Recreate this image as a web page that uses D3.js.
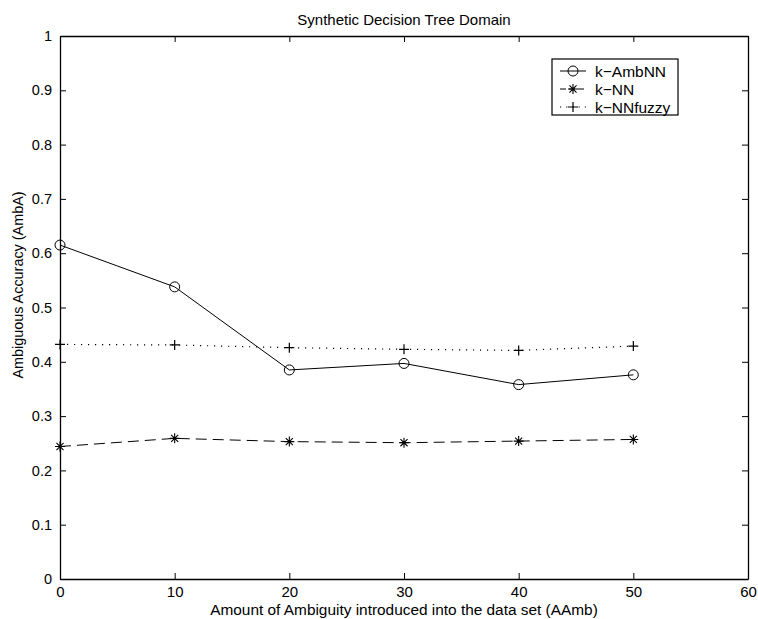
<!DOCTYPE html>
<html lang="en">
<head>
  <meta charset="UTF-8">
  <title>Synthetic Decision Tree Domain</title>
  <script src="https://cdn.jsdelivr.net/npm/d3@7"></script>
  <style>
    body { margin: 0; background: #fff; }
    svg { display: block; font-family: "Liberation Sans", Arial, sans-serif; }
    .axis text { font-size: 15px; fill: #000; font-family: "Liberation Sans", Arial, sans-serif; }
    .axis path, .axis line { stroke: #000; }
  </style>
</head>
<body>
  <svg width="758" height="619"></svg>
  <script>
    const xValues = [0, 10, 20, 30, 40, 50]
    const ambNN = [0.615, 0.538, 0.385, 0.397, 0.358, 0.376]
    const kNN = [0.244, 0.259, 0.253, 0.251, 0.254, 0.257]
    const kNNfuzzy = [0.432, 0.431, 0.426, 0.423, 0.421, 0.429]
    const xTicks = [0, 10, 20, 30, 40, 50, 60]
    const yTicks = [0, 0.1, 0.2, 0.3, 0.4, 0.5, 0.6, 0.7, 0.8, 0.9, 1]

    const margin = { top: 36, right: 10, bottom: 40, left: 60 }
    const width = 758 - margin.left - margin.right
    const height = 619 - margin.top - margin.bottom

    const svg = d3.select('svg')
    const chart = svg.append('g')
      .attr('transform', `translate(${margin.left}, ${margin.top})`)

    const x = d3.scaleLinear().domain([0, 60]).range([0, width])
    const y = d3.scaleLinear().domain([0, 1]).range([height, 0])

    const fmt = d => d3.format('~g')(d)

    // axes, ticks pointing inward on all four sides
    chart.append('g')
      .attr('class', 'axis')
      .attr('transform', `translate(0, ${height})`)
      .call(d3.axisBottom(x).tickValues(xTicks).tickFormat(fmt).tickSizeInner(-6).tickSizeOuter(0).tickPadding(7))
    chart.append('g')
      .attr('class', 'axis yaxis')
      .call(d3.axisLeft(y).tickValues(yTicks).tickFormat(fmt).tickSizeInner(-6).tickSizeOuter(0).tickPadding(8))
    chart.append('g')
      .attr('class', 'axis')
      .call(d3.axisTop(x).tickValues(xTicks).tickFormat('').tickSizeInner(-6).tickSizeOuter(0))
    chart.append('g')
      .attr('class', 'axis')
      .attr('transform', `translate(${width}, 0)`)
      .call(d3.axisRight(y).tickValues(yTicks).tickFormat('').tickSizeInner(-6).tickSizeOuter(0))

    chart.selectAll('.yaxis text').style('font-size', '14.5px')
    chart.selectAll('.axis .domain').attr('stroke-width', 1.3)

    const line = d3.line().x((d, i) => x(xValues[i])).y(d => y(d))

    const series = [
      { name: 'k\u2212AmbNN', values: ambNN, dash: null, legendDash: null, marker: 'circle' },
      { name: 'k\u2212NN', values: kNN, dash: '11,6', legendDash: '6,3', marker: 'star' },
      { name: 'k\u2212NNfuzzy', values: kNNfuzzy, dash: '1.2,5.8', legendDash: '1.2,5', marker: 'plus' }
    ]

    function drawMarker(g, type, cx, cy) {
      if (type === 'circle') {
        g.append('circle').attr('cx', cx).attr('cy', cy).attr('r', 5)
          .attr('fill', 'none').attr('stroke', '#000').attr('stroke-width', 1)
      } else if (type === 'plus') {
        g.append('path').attr('d', `M${cx - 5},${cy}H${cx + 5}M${cx},${cy - 5}V${cy + 5}`)
          .attr('stroke', '#000').attr('stroke-width', 1.2)
      } else {
        const r = 5
        const a = r * 0.707
        g.append('path').attr('d', `M${cx - r},${cy}H${cx + r}M${cx},${cy - r}V${cy + r}M${cx - a},${cy - a}L${cx + a},${cy + a}M${cx - a},${cy + a}L${cx + a},${cy - a}`)
          .attr('stroke', '#000').attr('stroke-width', 1.1)
      }
    }

    series.forEach(s => {
      chart.append('path')
        .datum(s.values)
        .attr('d', line)
        .attr('fill', 'none')
        .attr('stroke', '#000')
        .attr('stroke-width', s.marker === 'plus' ? 1.2 : 1)
        .attr('stroke-dasharray', s.dash)
      const mg = chart.append('g')
      s.values.forEach((v, i) => drawMarker(mg, s.marker, x(xValues[i]), y(v)))
    })

    // legend
    const legend = svg.append('g').attr('transform', 'translate(552, 59)')
    legend.append('rect')
      .attr('width', 126).attr('height', 56)
      .attr('fill', '#fff').attr('stroke', '#000').attr('stroke-width', 1.2)
    series.forEach((s, i) => {
      const ly = 12 + i * 18
      legend.append('line')
        .attr('x1', 8).attr('x2', 34).attr('y1', ly).attr('y2', ly)
        .attr('stroke', '#000').attr('stroke-width', 1)
        .attr('stroke-dasharray', s.legendDash)
      drawMarker(legend, s.marker, 21, ly)
      legend.append('text')
        .attr('x', 43).attr('y', ly + 5.5)
        .attr('font-size', 15.5)
        .text(s.name)
    })

    // titles
    svg.append('text')
      .attr('x', margin.left + width / 2).attr('y', 25)
      .attr('text-anchor', 'middle').attr('font-size', 15)
      .text('Synthetic Decision Tree Domain')
    svg.append('text')
      .attr('x', margin.left + width / 2).attr('y', 615)
      .attr('text-anchor', 'middle').attr('font-size', 15.4)
      .text('Amount of Ambiguity introduced into the data set (AAmb)')
    svg.append('text')
      .attr('transform', 'translate(23, 285) rotate(-90)')
      .attr('text-anchor', 'middle').attr('font-size', 14.4)
      .text('Ambiguous Accuracy (AmbA)')
  </script>
</body>
</html>
